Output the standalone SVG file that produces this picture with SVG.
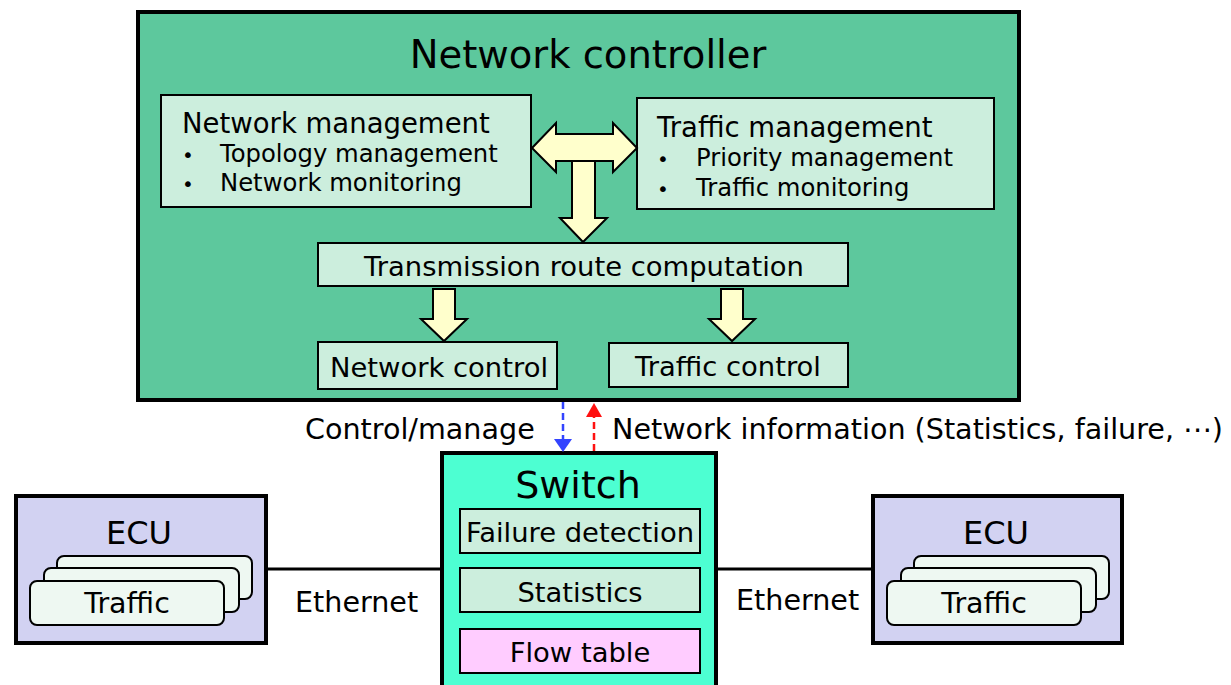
<svg xmlns="http://www.w3.org/2000/svg" width="1231" height="685" viewBox="0 0 1231 685">
<defs>
<style>
text{font-family:"DejaVu Sans","Noto Sans",sans-serif;fill:#000}
.box{stroke:#000;stroke-width:2}
.inner{fill:#CCEEDD;stroke:#000;stroke-width:2}
.arrow{fill:#FFFFCC;stroke:#000;stroke-width:2;stroke-linejoin:miter}
.card{fill:#EEF8F2;stroke:#000;stroke-width:2}
.thick{stroke:#000;stroke-width:4}
.t26{font-size:27.5px}
.t22{font-size:24.3px}
.t27{font-size:27.4px}
.lbl{font-size:28.6px}
</style>
</defs>

<g id="network-controller">
<rect x="138" y="12" width="881" height="388" fill="#5DC89D" class="thick"/>
<text x="588" y="68" font-size="38.5" text-anchor="middle">Network controller</text>
</g>

<g id="network-management">
<rect x="161" y="95" width="370" height="112" class="inner"/>
<text x="182" y="133" class="t26">Network management</text>
<text x="182" y="162" font-size="20">•</text>
<text x="220" y="162" class="t22">Topology management</text>
<text x="182" y="191" font-size="20">•</text>
<text x="220" y="191" class="t22">Network monitoring</text>
</g>

<g id="traffic-management">
<rect x="637" y="98" width="357" height="111" class="inner"/>
<text x="657" y="137" class="t26">Traffic management</text>
<text x="657" y="166" font-size="20">•</text>
<text x="696" y="166" class="t22">Priority management</text>
<text x="657" y="196" font-size="20">•</text>
<text x="696" y="196" class="t22">Traffic monitoring</text>
</g>

<g id="transmission-route">
<rect x="318" y="243" width="530" height="43" class="inner"/>
<text x="584" y="276" class="t27" text-anchor="middle">Transmission route computation</text>
</g>

<g id="network-control">
<rect x="318" y="342" width="239" height="47" class="inner"/>
<text x="439" y="377" class="t27" text-anchor="middle">Network control</text>
</g>

<g id="traffic-control">
<rect x="609" y="343" width="239" height="44" class="inner"/>
<text x="728" y="376" class="t27" text-anchor="middle">Traffic control</text>
</g>

<g id="switch">
<rect x="442" y="453" width="274" height="240" fill="#4DFFD2" class="thick"/>
<text x="578" y="498" font-size="38" text-anchor="middle">Switch</text>
<rect x="460" y="509" width="240" height="44" class="inner"/>
<text x="580" y="542" class="t27" text-anchor="middle">Failure detection</text>
<rect x="460" y="568" width="240" height="44" class="inner"/>
<text x="580" y="602" class="t27" text-anchor="middle">Statistics</text>
<rect x="460" y="629" width="240" height="44" fill="#FFCCFF" class="box"/>
<text x="580" y="662" class="t27" text-anchor="middle">Flow table</text>
</g>

<g id="ecu-left">
<rect x="16" y="496" width="250" height="147" fill="#D2D2F2" class="thick"/>
<text x="139" y="544" font-size="32" text-anchor="middle">ECU</text>
<rect x="57" y="556" width="195" height="43" rx="7" class="card"/>
<rect x="44" y="568" width="195" height="44" rx="7" class="card"/>
<rect x="30" y="581" width="194" height="44" rx="7" class="card"/>
<text x="127" y="613" font-size="28.5" text-anchor="middle">Traffic</text>
</g>

<g id="ecu-right">
<rect x="873" y="496" width="249" height="147" fill="#D2D2F2" class="thick"/>
<text x="996" y="544" font-size="32" text-anchor="middle">ECU</text>
<rect x="914" y="556" width="195" height="43" rx="7" class="card"/>
<rect x="901" y="568" width="195" height="44" rx="7" class="card"/>
<rect x="887" y="581" width="194" height="44" rx="7" class="card"/>
<text x="984" y="613" font-size="28.5" text-anchor="middle">Traffic</text>
</g>

<g id="connectors">
<path class="arrow" d="M532,148 L556,123 L556,134 L613,134 L613,123 L637,148 L613,172 L613,161 L556,161 L556,172 Z"/>
<path class="arrow" d="M572,161 L595,161 L595,218 L607,218 L583,242 L560,218 L572,218 Z"/>
<path class="arrow" d="M433,289 L455,289 L455,319 L467,319 L444,341 L421,319 L433,319 Z"/>
<path class="arrow" d="M721,289 L743,289 L743,319 L755,319 L732,341 L709,319 L721,319 Z"/>
<line x1="563" y1="402" x2="563" y2="440" stroke="#3344FF" stroke-width="2.5" stroke-dasharray="7,4"/>
<path d="M554,439 L572,439 L563,452 Z" fill="#3344FF"/>
<line x1="594" y1="451" x2="594" y2="416" stroke="#FF1111" stroke-width="2.5" stroke-dasharray="7,4"/>
<path d="M586,417 L602,417 L594,403 Z" fill="#FF1111"/>
<line x1="266" y1="569" x2="442" y2="569" stroke="#000" stroke-width="3"/>
<line x1="716" y1="569" x2="873" y2="569" stroke="#000" stroke-width="3"/>
<text x="305" y="439" class="lbl">Control/manage</text>
<text x="612" y="439" class="lbl">Network information (Statistics, failure, ⋯)</text>
<text x="295" y="612" class="lbl">Ethernet</text>
<text x="736" y="610" class="lbl">Ethernet</text>
</g>
</svg>
